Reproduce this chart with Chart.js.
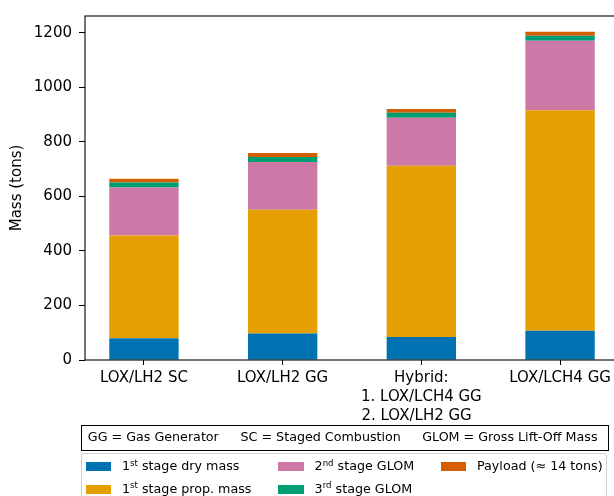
<!DOCTYPE html>
<html><head><meta charset="utf-8">
<script src="https://cdn.jsdelivr.net/npm/chart.js@4"></script>
<style>
html,body{margin:0;padding:0;overflow:hidden;background:#fff;width:614px;height:496px;}
body{position:relative;font-family:'DejaVu Sans',sans-serif;}
#c{position:absolute;left:0;top:0;}
.txt{position:absolute;white-space:pre;line-height:12.7px;font-size:12.7px;color:#000;}
#note{position:absolute;left:81px;top:425px;width:528px;height:26px;border:1.5px solid #000;box-sizing:border-box;}
#leg{position:absolute;left:80.5px;top:453px;width:526px;height:70px;border:1px solid #cfcfcf;border-radius:3px;box-sizing:border-box;}
.sw{position:absolute;width:25.5px;height:8.7px;}
.sup{font-size:8.6px;position:relative;top:-4.6px;}
</style></head>
<body>
<canvas id="c" width="630" height="496"></canvas>
<div id="note"></div>
<div id="leg"></div>
<script>
// ---- data ----
const categoryLabels = ['LOX/LH2 SC', 'LOX/LH2 GG', ['Hybrid:', '1. LOX/LCH4 GG', '2. LOX/LH2 GG  '], 'LOX/LCH4 GG'];
const dryMass1 = [80, 97, 84, 107];
const propMass1 = [377, 454, 629, 809];
const glom2 = [176, 175, 176, 255];
const glom3 = [18, 19, 18, 19];
const payload = [14, 14, 14, 14];
const yTicks = [0, 200, 400, 600, 800, 1000, 1200];
const seriesNames = ['1st stage dry mass', '1st stage prop. mass', '2nd stage GLOM', '3rd stage GLOM', 'Payload (≈ 14 tons)'];
const seriesColors = ['#0072B2', '#E69F00', '#CC79A7', '#009E73', '#D55E00'];
const noteItems = ['GG = Gas Generator', 'SC = Staged Combustion', 'GLOM = Gross Lift-Off Mass'];
const yTitle = 'Mass (tons)';

const FONT = "'DejaVu Sans', sans-serif";
Chart.defaults.font.family = FONT;
Chart.defaults.color = '#000';

const series = [dryMass1, propMass1, glom2, glom3, payload];

const framePlugin = {
  id: 'frame',
  afterDatasetsDraw(chart) {
    const {ctx, chartArea: a} = chart;
    ctx.save();
    ctx.strokeStyle = '#000';
    ctx.lineWidth = 1.1;
    ctx.strokeRect(a.left, a.top, a.right - a.left, a.bottom - a.top);
    ctx.restore();
  }
};

new Chart(document.getElementById('c'), {
  type: 'bar',
  data: {
    datasets: series.map((vals, k) => ({
      label: seriesNames[k],
      data: vals.map((v, i) => ({x: i, y: v})),
      backgroundColor: seriesColors[k],
      borderWidth: 0,
      grouped: false,
      barPercentage: 0.5,
      categoryPercentage: 1
    }))
  },
  options: {
    responsive: false,
    animation: false,
    devicePixelRatio: 1,
    layout: {padding: {left: 0, top: 13.5, right: 11, bottom: 0}},
    plugins: {legend: {display: false}, tooltip: {enabled: false}},
    scales: {
      x: {
        type: 'linear', min: -0.425, max: 3.425, offset: false,
        afterBuildTicks: s => { s.ticks = categoryLabels.map((c, i) => ({value: i})); },
        afterFit: s => { s.height = 136; },
        ticks: {
          autoSkip: false, maxRotation: 0, minRotation: 0, padding: 4,
          font: {size: 15, lineHeight: 1.25}, color: '#000',
          callback: v => categoryLabels[v]
        },
        grid: {drawOnChartArea: false, drawTicks: true, tickLength: 5, color: '#000', lineWidth: 1, offset: false},
        border: {display: false}
      },
      y: {
        min: 0, max: 1262, stacked: true,
        afterBuildTicks: s => { s.ticks = yTicks.map(v => ({value: v})); },
        afterFit: s => { s.width = 85; },
        ticks: {padding: 7, font: {size: 15}, color: '#000', callback: v => String(v)},
        grid: {drawOnChartArea: false, drawTicks: true, tickLength: 6, color: '#000', lineWidth: 1},
        border: {display: false},
        title: {display: true, text: yTitle, font: {size: 15}, color: '#000', padding: {top: 8, bottom: 0}}
      }
    }
  },
  plugins: [framePlugin]
});

// ---- note box ----
function esc(s) { return s.replace(/&/g, '&amp;').replace(/</g, '&lt;'); }
function fmt(name) {
  return esc(name).replace(/^(\d)(st|nd|rd|th)\b/, '$1<span class="sup">$2</span>');
}
const note = document.getElementById('note');
const noteX = [88.3, 241, 422.7];
noteItems.forEach((t, i) => {
  const sp = document.createElement('span');
  sp.className = 'txt';
  sp.textContent = t;
  sp.style.left = (noteX[i] - 81 - 1.5) + 'px';
  sp.style.top = (442.7 - 10.75 - 425 - 1.5) + 'px';
  note.appendChild(sp);
});

// ---- legend (column-major, 2 rows) ----
const leg = document.getElementById('leg');
const colX = [85.7, 278.3, 440.7];
const rowY = [462.3, 485];
const rowBase = [471, 493.3];
seriesNames.forEach((name, k) => {
  const col = Math.floor(k / 2), row = k % 2;
  const sw = document.createElement('div');
  sw.className = 'sw';
  sw.style.background = seriesColors[k];
  sw.style.left = (colX[col] - 80.5 - 1) + 'px';
  sw.style.top = (rowY[row] - 453 - 1) + 'px';
  leg.appendChild(sw);
  const sp = document.createElement('span');
  sp.className = 'txt';
  sp.innerHTML = fmt(name);
  sp.style.left = (colX[col] + 36.3 - 80.5 - 1) + 'px';
  sp.style.top = (rowBase[row] - 10.75 - 453 - 1) + 'px';
  leg.appendChild(sp);
});
</script>
</body></html>
